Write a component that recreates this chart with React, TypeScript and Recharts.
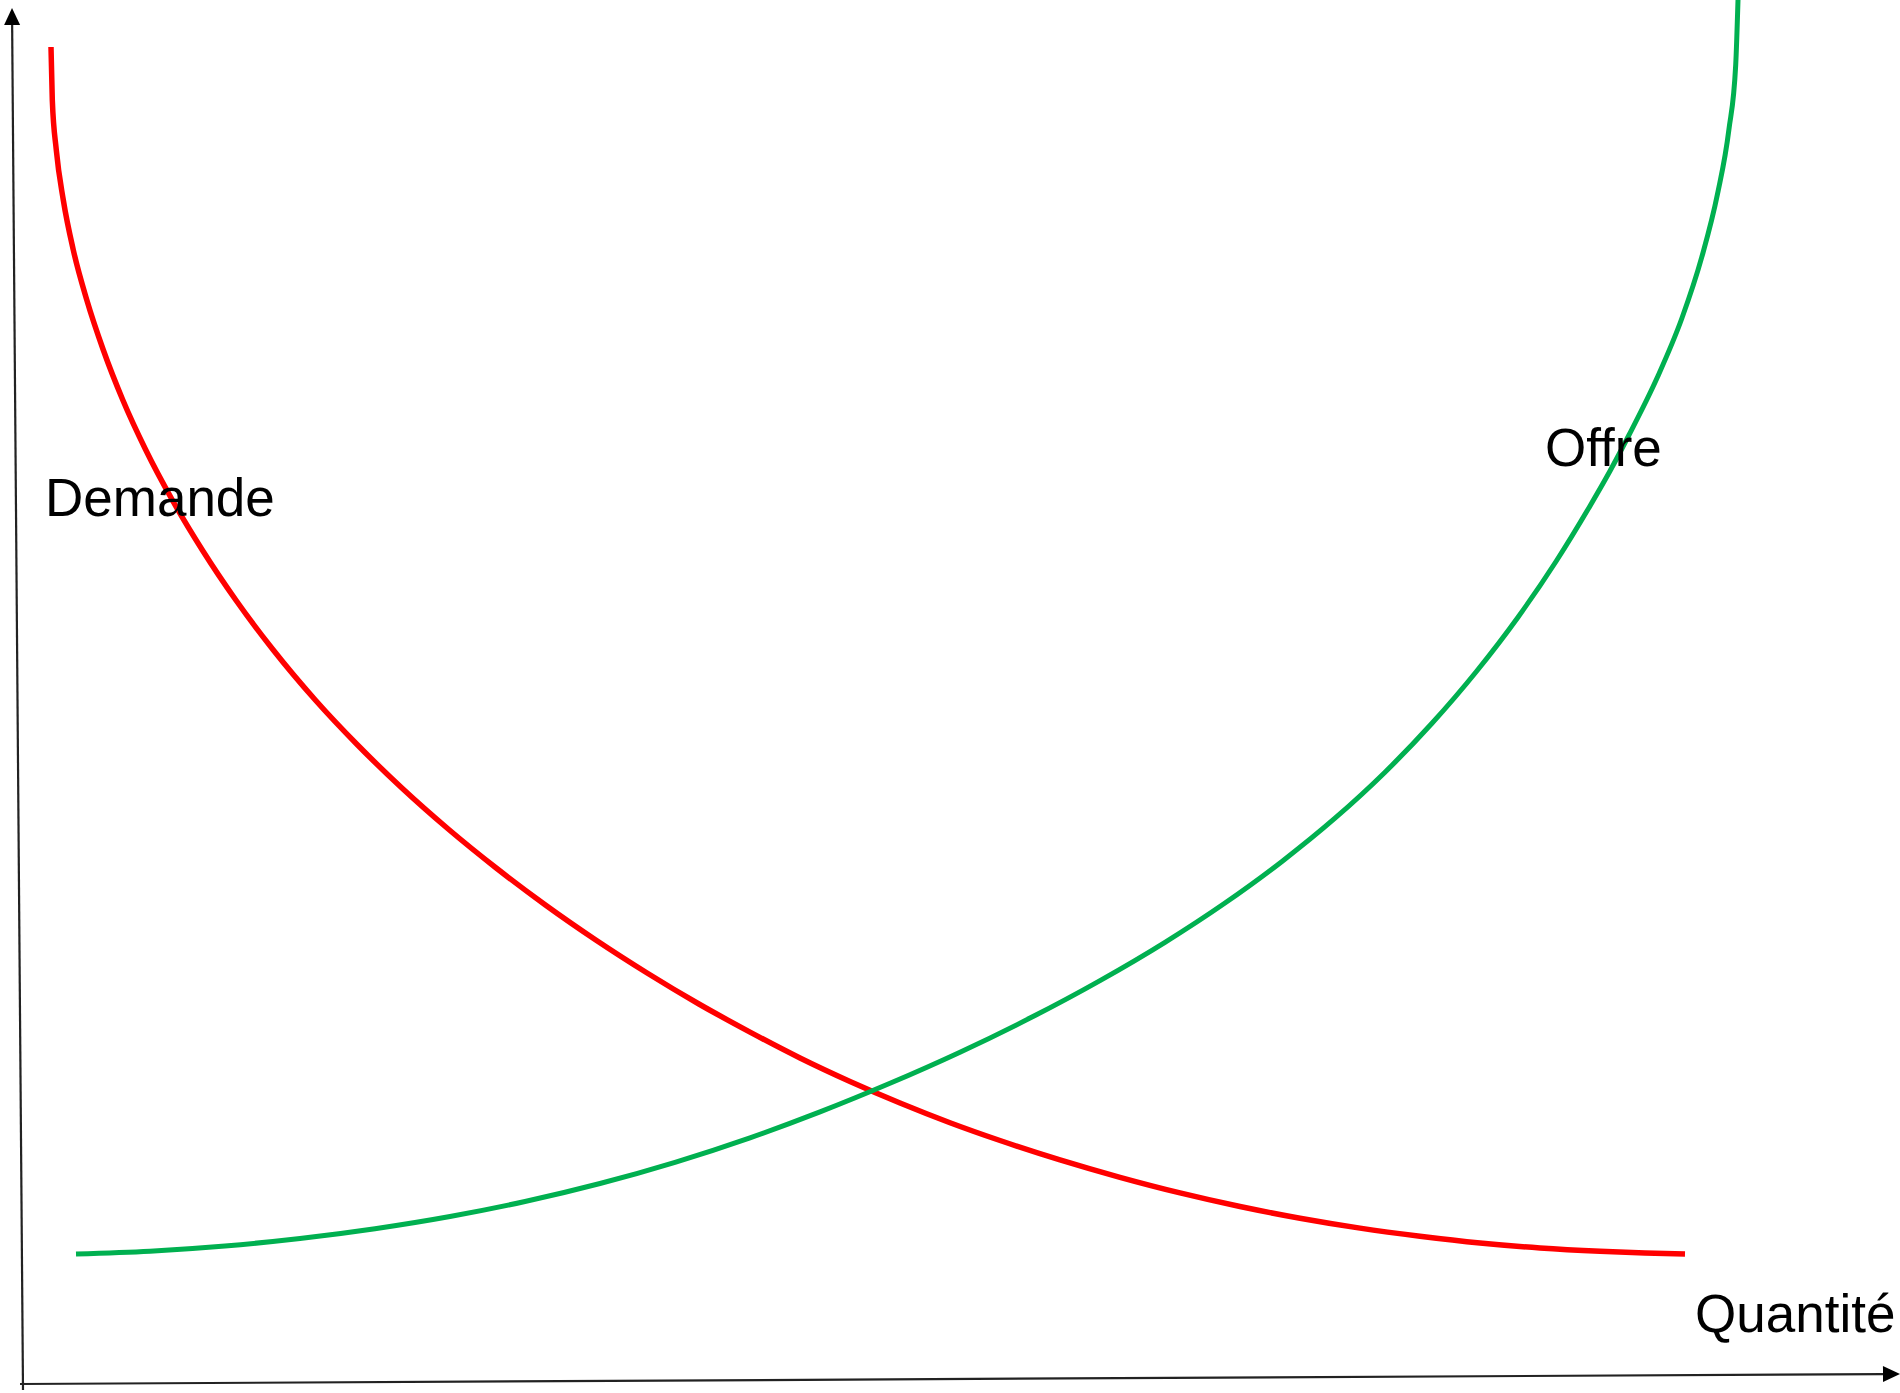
import React from 'react';
import { LineChart, Line, XAxis, YAxis, ReferenceLine, ReferenceDot } from 'recharts';

// Quantité (q) and prix (p)
const demande = [
  { q: 3.1, p: 133.6 }, { q: 3.23, p: 128.3 }, { q: 3.63, p: 123.3 }, { q: 4.33, p: 118.3 },
  { q: 5.33, p: 113.3 }, { q: 6.68, p: 108.3 }, { q: 8.33, p: 103.3 }, { q: 10.28, p: 98.3 },
  { q: 12.58, p: 93.3 }, { q: 15.23, p: 88.3 }, { q: 18.23, p: 83.3 }, { q: 21.58, p: 78.3 },
  { q: 25.33, p: 73.3 }, { q: 29.53, p: 68.3 }, { q: 33.76, p: 63.8 }, { q: 38.19, p: 59.5 },
  { q: 42.82, p: 55.4 }, { q: 47.62, p: 51.5 }, { q: 52.54, p: 47.8 }, { q: 57.58, p: 44.3 },
  { q: 62.71, p: 41 }, { q: 67.89, p: 37.9 }, { q: 73, p: 35.09 }, { q: 78, p: 32.5 },
  { q: 83, p: 30.15 }, { q: 88, p: 28 }, { q: 93, p: 26.03 }, { q: 98, p: 24.25 },
  { q: 104, p: 22.31 }, { q: 110, p: 20.57 }, { q: 116, p: 19.01 }, { q: 122, p: 17.65 },
  { q: 128, p: 16.48 }, { q: 134, p: 15.49 }, { q: 140, p: 14.68 }, { q: 146, p: 14 },
  { q: 152, p: 13.5 }, { q: 158, p: 13.17 }, { q: 162.5, p: 13 }, { q: 166.5, p: 12.9 },
];

const offre = [
  { q: 5.6, p: 12.9 }, { q: 13, p: 13.18 }, { q: 20.5, p: 13.7 }, { q: 28, p: 14.45 },
  { q: 35.5, p: 15.43 }, { q: 43, p: 16.65 }, { q: 50.5, p: 18.15 }, { q: 58, p: 19.95 },
  { q: 65.5, p: 22.07 }, { q: 73, p: 24.52 }, { q: 80, p: 27.11 }, { q: 87, p: 29.97 },
  { q: 94, p: 33.08 }, { q: 101, p: 36.49 }, { q: 108, p: 40.24 }, { q: 114.5, p: 44.07 },
  { q: 120.5, p: 48 }, { q: 126.2, p: 52.16 }, { q: 131.5, p: 56.48 }, { q: 136.5, p: 61.08 },
  { q: 141.2, p: 65.97 }, { q: 145.6, p: 71.1 }, { q: 149.8, p: 76.58 }, { q: 153.6, p: 82.15 },
  { q: 157, p: 87.71 }, { q: 159, p: 91.2 }, { q: 160.9, p: 94.8 }, { q: 163.75, p: 100.6 },
  { q: 166.18, p: 106.45 }, { q: 168.19, p: 112.63 }, { q: 169.76, p: 118.94 }, { q: 170.89, p: 125.34 },
  { q: 171.57, p: 131.8 }, { q: 171.8, p: 138.3 },
];

const labels = [
  { text: 'Demande', q: 2.5, p: 86.7 },
  { text: 'Offre', q: 152.5, p: 91.7 },
  { text: 'Quantité', q: 167.5, p: 5.1 },
];

// axes drawn as segments (start, arrow tip)
const axisPrix = [{ x: 0.3, y: -0.7 }, { x: -0.8, y: 137.5 }];
const axisQuantite = [{ x: 0, y: -0.1 }, { x: 188, y: 0.9 }];

const Arrow = (props: any) => {
  const { x1, y1, x2, y2 } = props;
  const ang = Math.atan2(y2 - y1, x2 - x1);
  const len = 17;
  const half = 8;
  const bx = x2 - len * Math.cos(ang);
  const by = y2 - len * Math.sin(ang);
  const px = -Math.sin(ang) * half;
  const py = Math.cos(ang) * half;
  return (
    <g>
      <line x1={x1} y1={y1} x2={bx} y2={by} stroke="#222" strokeWidth={2.2} />
      <polygon points={`${x2},${y2} ${bx + px},${by + py} ${bx - px},${by - py}`} fill="#000" />
    </g>
  );
};

const LabelText = (text: string) => (props: any) => (
  <text x={props.cx} y={props.cy} fontFamily="Liberation Sans, Arial, sans-serif" fontSize={53} fill="#000">
    {text}
  </text>
);

export default function App() {
  return (
    <div style={{ position: 'absolute', left: 0, top: 0, background: '#fff' }}>
      <LineChart width={1900} height={1393} margin={{ top: 0, right: 0, bottom: 0, left: 0 }}>
        <XAxis type="number" dataKey="q" domain={[-2, 188]} hide allowDataOverflow />
        <YAxis type="number" dataKey="p" domain={[-1, 138.3]} hide allowDataOverflow />
        <ReferenceLine segment={axisPrix} shape={Arrow} ifOverflow="visible" />
        <ReferenceLine segment={axisQuantite} shape={Arrow} ifOverflow="visible" />
        <Line data={demande} dataKey="p" type="monotone" stroke="#ff0000" strokeWidth={5.5} strokeLinecap="butt"
          dot={false} activeDot={false} isAnimationActive={false} />
        <Line data={offre} dataKey="p" type="monotone" stroke="#00b050" strokeWidth={5} strokeLinecap="butt"
          dot={false} activeDot={false} isAnimationActive={false} />
        {labels.map((l) => (
          <ReferenceDot key={l.text} x={l.q} y={l.p} r={0} shape={LabelText(l.text)} ifOverflow="visible" />
        ))}
      </LineChart>
    </div>
  );
}
